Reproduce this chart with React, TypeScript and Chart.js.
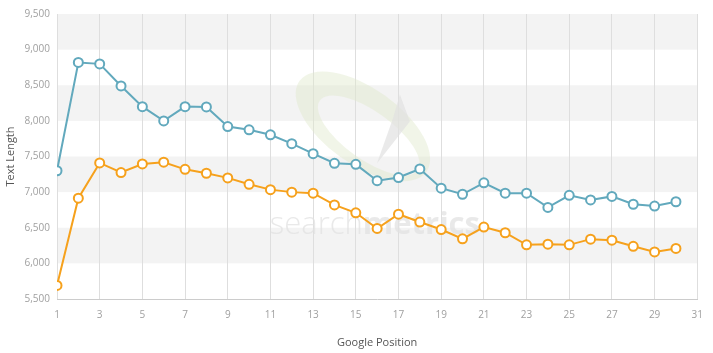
import { useEffect, useRef } from 'react';
import { Chart, registerables } from 'chart.js';

Chart.register(...registerables);

const positions = [1, 2, 3, 4, 5, 6, 7, 8, 9, 10, 11, 12, 13, 14, 15, 16, 17, 18, 19, 20, 21, 22, 23, 24, 25, 26, 27, 28, 29, 30];
const seriesBlue = [7300, 8820, 8800, 8490, 8200, 8000, 8200, 8195, 7920, 7875, 7805, 7680, 7540, 7405, 7390, 7160, 7205, 7325, 7055, 6970, 7130, 6985, 6985, 6785, 6955, 6890, 6940, 6830, 6805, 6865];
const seriesOrange = [5690, 6915, 7410, 7275, 7395, 7420, 7320, 7265, 7200, 7110, 7035, 7000, 6985, 6820, 6710, 6490, 6690, 6580, 6475, 6345, 6510, 6430, 6260, 6270, 6260, 6340, 6325, 6240, 6160, 6210];
const yMin = 5500;
const yMax = 9500;
const yStep = 500;
const xMin = 1;
const xMax = 31;
const xStep = 2;
const xTitle = 'Google Position';
const yTitle = 'Text Length';
const watermarkA = 'search';
const watermarkB = 'metrics';

const FONT = "'Open Sans', 'Noto Sans', sans-serif";

const bandsPlugin = {
  id: 'bands',
  beforeDraw(chart: any) {
    const { ctx, chartArea, scales } = chart;
    const y = scales.y;
    ctx.save();
    ctx.fillStyle = '#f3f3f3';
    for (let v = yMax; v > yMin; v -= 2 * yStep) {
      const top = y.getPixelForValue(v);
      const bot = y.getPixelForValue(v - yStep);
      ctx.fillRect(chartArea.left, top, chartArea.right - chartArea.left, bot - top);
    }
    ctx.restore();
  },
};

const watermarkPlugin = {
  id: 'watermark',
  beforeDatasetsDraw(chart: any) {
    const { ctx, chartArea } = chart;
    const cx = chartArea.left + (chartArea.right - chartArea.left) * 0.4965;
    const cy = chartArea.top + (chartArea.bottom - chartArea.top) * 0.64;
    ctx.save();
    // swoosh
    ctx.translate(cx - 12, cy - 70);
    ctx.rotate(0.62);
    ctx.fillStyle = 'rgba(225, 232, 205, 0.45)';
    ctx.beginPath();
    ctx.ellipse(0, 0, 78, 38, 0, 0, Math.PI * 2);
    ctx.ellipse(10, 4, 60, 24, 0, 0, Math.PI * 2, true);
    ctx.fill('evenodd');
    ctx.restore();
    ctx.save();
    ctx.fillStyle = 'rgba(225, 225, 225, 0.7)';
    ctx.beginPath();
    ctx.moveTo(cx + 25, cy - 102);
    ctx.lineTo(cx + 35, cy - 75);
    ctx.lineTo(cx + 2, cy - 33);
    ctx.lineTo(cx + 18, cy - 78);
    ctx.closePath();
    ctx.fill();
    ctx.restore();
    // text
    ctx.save();
    const size = 31;
    ctx.textBaseline = 'alphabetic';
    ctx.fillStyle = 'rgba(225, 225, 225, 0.75)';
    ctx.font = `300 ${size}px ${FONT}`;
    const wA = ctx.measureText(watermarkA).width;
    ctx.font = `700 ${size}px ${FONT}`;
    const wB = ctx.measureText(watermarkB).width;
    const x0 = cx - (wA + wB) / 2;
    const base = cy + 38;
    ctx.font = `300 ${size}px ${FONT}`;
    ctx.fillText(watermarkA, x0, base);
    ctx.font = `700 ${size}px ${FONT}`;
    ctx.fillText(watermarkB, x0 + wA, base);
    ctx.restore();
  },
};

export default function App() {
  const ref = useRef<HTMLCanvasElement>(null);
  useEffect(() => {
    document.body.style.margin = '0';
    if (!ref.current) return;
    const chart = new Chart(ref.current, {
      type: 'line',
      data: {
        datasets: [
          {
            label: 'Series 1',
            data: positions.map((p, i) => ({ x: p, y: seriesBlue[i] })),
            borderColor: '#62a9bd',
            backgroundColor: '#ffffff',
            borderWidth: 2,
            pointRadius: 4.5,
            pointBorderWidth: 2,
            pointBackgroundColor: '#ffffff',
            pointBorderColor: '#62a9bd',
            tension: 0,
          },
          {
            label: 'Series 2',
            data: positions.map((p, i) => ({ x: p, y: seriesOrange[i] })),
            borderColor: '#f6a11c',
            backgroundColor: '#ffffff',
            borderWidth: 2,
            pointRadius: 4.5,
            pointBorderWidth: 2,
            pointBackgroundColor: '#ffffff',
            pointBorderColor: '#f6a11c',
            tension: 0,
          },
        ],
      },
      options: {
        animation: false,
        responsive: false,
        maintainAspectRatio: false,
        layout: { padding: { left: 0, right: 14, top: 14, bottom: 0 } },
        plugins: {
          legend: { display: false },
          tooltip: { enabled: false },
        },
        scales: {
          x: {
            type: 'linear',
            min: xMin,
            max: xMax,
            ticks: {
              stepSize: xStep,
              padding: 10,
              color: '#a0a0a0',
              font: { family: FONT, size: 10 },
              maxRotation: 0,
              autoSkip: false,
            },
            grid: {
              color: '#dedede',
              lineWidth: 1,
              drawTicks: false,
            },
            border: { display: true, color: '#cccccc', width: 1 },
            title: {
              display: true,
              text: xTitle,
              color: '#555555',
              font: { family: FONT, size: 11 },
              padding: { top: 4, bottom: 4 },
            },
            afterFit(scale: any) {
              scale.height = 54;
            },
          },
          y: {
            type: 'linear',
            min: yMin,
            max: yMax,
            ticks: {
              stepSize: yStep,
              padding: 7,
              color: '#a0a0a0',
              font: { family: FONT, size: 10 },
              callback: (v: any) => Number(v).toLocaleString('en-US'),
            },
            grid: { display: false, drawTicks: false },
            border: { display: false },
            title: {
              display: true,
              text: yTitle,
              color: '#555555',
              font: { family: FONT, size: 11 },
              padding: { top: 4, bottom: 4 },
            },
            afterFit(scale: any) {
              scale.width = 57;
            },
          },
        },
      },
      plugins: [bandsPlugin, watermarkPlugin],
    });
    return () => chart.destroy();
  }, []);
  return (
    <div style={{ position: 'absolute', left: 0, top: 0, width: 713, height: 353 }}>
      <canvas ref={ref} width={713} height={353} style={{ width: 713, height: 353, display: 'block' }} />
    </div>
  );
}
